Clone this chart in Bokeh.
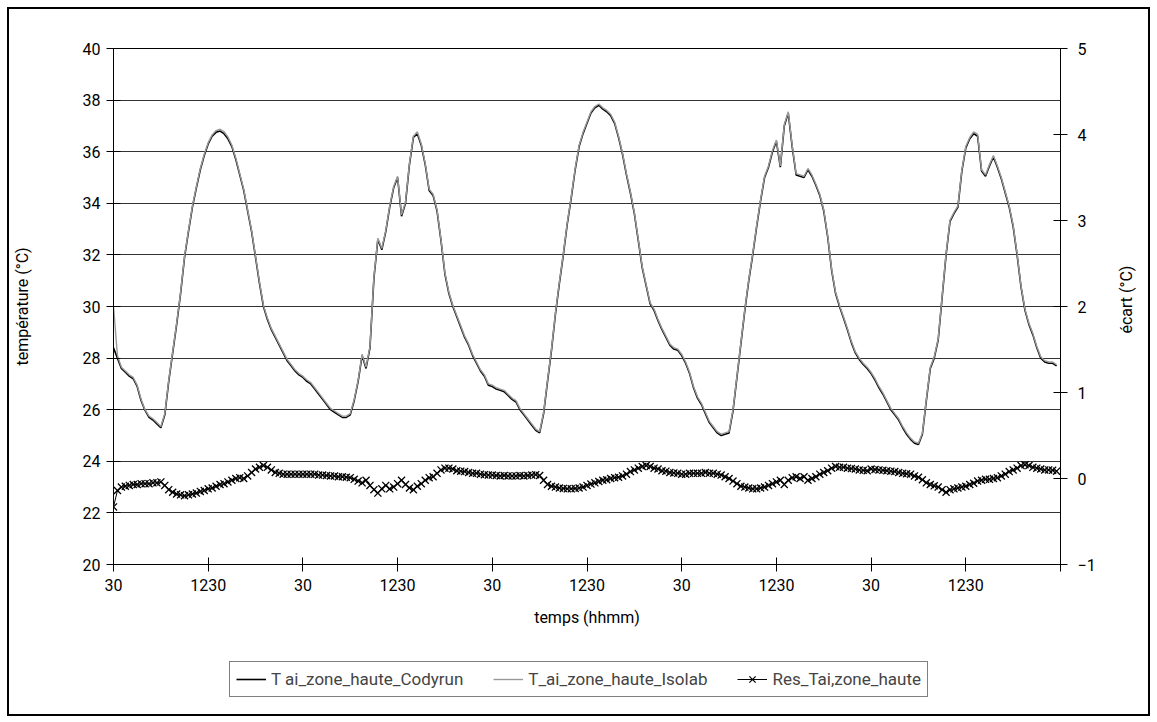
import math
from bokeh.plotting import figure
from bokeh.layouts import column
from bokeh.models import Range1d, LinearAxis, FixedTicker, Legend, LegendItem, ColumnDataSource
from bokeh.embed import file_html
from bokeh.resources import INLINE

FONT = "Roboto"

# ---- data (half-hourly samples over 5 days, first sample at 00:30) ----
codyrun_d1 = [28.4, 28.0, 27.6, 27.45, 27.3, 27.2, 26.9, 26.35, 25.97, 25.7, 25.6, 25.45,
              25.3, 25.8, 27.1, 28.2, 29.3, 30.5, 31.9, 32.9, 33.85, 34.6, 35.3, 35.85,
              36.3, 36.6, 36.75, 36.8, 36.7, 36.5, 36.2, 35.7, 35.1, 34.5, 33.7, 32.9,
              31.9, 30.9, 30.0, 29.5, 29.1, 28.8, 28.5, 28.2, 27.9, 27.7, 27.5, 27.35]
codyrun_d2 = [27.25, 27.1, 27.0, 26.8, 26.6, 26.4, 26.2, 26.0, 25.9, 25.8, 25.7, 25.7,
              25.8, 26.35, 27.1, 28.1, 27.6, 28.4, 31.1, 32.6, 32.2, 32.9, 33.85, 34.6,
              35.0, 33.5, 34.0, 35.5, 36.55, 36.7, 36.25, 35.5, 34.5, 34.3, 33.7, 32.55,
              31.25, 30.5, 30.0, 29.6, 29.2, 28.8, 28.5, 28.1, 27.8, 27.5, 27.3, 26.95]
codyrun_d3 = [26.9, 26.8, 26.75, 26.7, 26.55, 26.4, 26.3, 26.0, 25.8, 25.6, 25.4, 25.2,
              25.1, 25.85, 27.1, 28.3, 29.7, 30.9, 32.0, 33.2, 34.2, 35.3, 36.2, 36.7,
              37.1, 37.5, 37.7, 37.8, 37.65, 37.55, 37.4, 37.1, 36.55, 35.9, 35.1, 34.4,
              33.6, 32.55, 31.5, 30.8, 30.1, 29.85, 29.45, 29.1, 28.8, 28.5, 28.35, 28.3]
codyrun_d4 = [28.1, 27.8, 27.4, 26.85, 26.45, 26.2, 25.85, 25.5, 25.3, 25.1, 25.0, 25.05,
              25.1, 25.95, 27.25, 28.55, 29.85, 31.0, 32.0, 33.1, 34.1, 35.0, 35.4, 36.0,
              36.4, 35.4, 37.0, 37.5, 36.2, 35.1, 35.05, 35.0, 35.3, 35.05, 34.7, 34.3,
              33.7, 32.7, 31.4, 30.5, 30.0, 29.55, 29.1, 28.6, 28.2, 27.95, 27.75, 27.6]
codyrun_d5 = [27.4, 27.15, 26.85, 26.6, 26.3, 26.0, 25.8, 25.6, 25.3, 25.05, 24.85, 24.7,
              24.65, 25.05, 26.35, 27.6, 28.0, 28.7, 30.35, 32.0, 33.3, 33.6, 33.85, 35.25,
              36.15, 36.5, 36.7, 36.6, 35.25, 35.05, 35.45, 35.8, 35.4, 34.95, 34.4, 33.85,
              33.1, 32.0, 30.75, 29.85, 29.3, 28.9, 28.4, 28.0, 27.85, 27.8, 27.8, 27.7]

isolab_d1 = [30.0, 28.1, 27.65, 27.5, 27.35, 27.25, 26.95, 26.4, 26.0, 25.75, 25.65, 25.5,
             25.35, 25.85, 27.15, 28.25, 29.35, 30.55, 31.95, 32.95, 33.9, 34.65, 35.35, 35.9,
             36.35, 36.65, 36.82, 36.87, 36.78, 36.57, 36.25, 35.75, 35.15, 34.55, 33.75, 32.95,
             31.95, 30.95, 30.05, 29.55, 29.15, 28.85, 28.55, 28.25, 27.95, 27.75, 27.55, 27.4]
isolab_d2 = [27.3, 27.15, 27.05, 26.85, 26.65, 26.45, 26.25, 26.05, 25.95, 25.85, 25.75, 25.75,
             25.85, 26.4, 27.15, 28.15, 27.65, 28.45, 31.15, 32.65, 32.25, 32.95, 33.9, 34.65,
             35.05, 33.55, 34.05, 35.55, 36.6, 36.77, 36.3, 35.55, 34.55, 34.35, 33.75, 32.6,
             31.3, 30.55, 30.05, 29.65, 29.25, 28.85, 28.55, 28.15, 27.85, 27.55, 27.35, 27.0]
isolab_d3 = [26.95, 26.85, 26.8, 26.75, 26.6, 26.45, 26.35, 26.05, 25.85, 25.65, 25.45, 25.25,
             25.15, 25.9, 27.15, 28.35, 29.75, 30.95, 32.05, 33.25, 34.25, 35.35, 36.25, 36.75,
             37.15, 37.55, 37.75, 37.85, 37.7, 37.6, 37.45, 37.15, 36.6, 35.95, 35.15, 34.45,
             33.65, 32.6, 31.55, 30.85, 30.15, 29.9, 29.5, 29.15, 28.85, 28.55, 28.4, 28.35]
isolab_d4 = [28.15, 27.85, 27.45, 26.9, 26.5, 26.25, 25.9, 25.55, 25.35, 25.15, 25.05, 25.1,
             25.15, 26.0, 27.3, 28.6, 29.9, 31.05, 32.05, 33.15, 34.15, 35.05, 35.45, 36.05,
             36.45, 35.45, 37.05, 37.55, 36.25, 35.15, 35.1, 35.05, 35.35, 35.1, 34.75, 34.35,
             33.75, 32.75, 31.45, 30.55, 30.05, 29.6, 29.15, 28.65, 28.25, 28.0, 27.8, 27.65]
isolab_d5 = [27.45, 27.2, 26.9, 26.65, 26.35, 26.05, 25.85, 25.65, 25.35, 25.1, 24.9, 24.75,
             24.7, 25.1, 26.4, 27.65, 28.05, 28.75, 30.4, 32.05, 33.35, 33.65, 33.9, 35.3,
             36.2, 36.55, 36.77, 36.67, 35.3, 35.1, 35.5, 35.85, 35.45, 35.0, 34.45, 33.9,
             33.15, 32.05, 30.8, 29.9, 29.35, 28.95, 28.45, 28.05, 27.9, 27.85, 27.85, 27.75]

res_d1 = [-0.33, -0.14, -0.10, -0.09, -0.08, -0.07, -0.07, -0.06, -0.06, -0.06, -0.05, -0.05,
          -0.04, -0.08, -0.13, -0.16, -0.18, -0.19, -0.20, -0.19, -0.18, -0.17, -0.15, -0.14,
          -0.12, -0.11, -0.09, -0.07, -0.06, -0.04, -0.02, 0.0, 0.01, 0.0, 0.03, 0.07,
          0.11, 0.13, 0.15, 0.13, 0.10, 0.07, 0.06, 0.05, 0.05, 0.05, 0.05, 0.05]
res_d2 = [0.05, 0.05, 0.05, 0.05, 0.04, 0.04, 0.035, 0.03, 0.03, 0.02, 0.02, 0.015,
          0.01, -0.01, -0.03, -0.05, -0.02, -0.08, -0.13, -0.17, -0.12, -0.08, -0.12, -0.10,
          -0.06, -0.02, -0.07, -0.11, -0.13, -0.09, -0.06, -0.02, 0.01, 0.02, 0.06, 0.10,
          0.12, 0.12, 0.11, 0.09, 0.085, 0.08, 0.07, 0.06, 0.06, 0.05, 0.045, 0.04]
res_d3 = [0.04, 0.035, 0.03, 0.035, 0.03, 0.03, 0.03, 0.035, 0.03, 0.035, 0.04, 0.045,
          0.035, -0.02, -0.07, -0.09, -0.10, -0.11, -0.115, -0.12, -0.12, -0.115, -0.11, -0.10,
          -0.08, -0.065, -0.05, -0.035, -0.02, -0.015, 0.0, 0.01, 0.015, 0.03, 0.05, 0.08,
          0.10, 0.12, 0.14, 0.15, 0.14, 0.12, 0.11, 0.09, 0.085, 0.07, 0.065, 0.06]
res_d4 = [0.05, 0.05, 0.06, 0.06, 0.06, 0.06, 0.07, 0.06, 0.06, 0.05, 0.04, 0.02,
          0.0, -0.03, -0.06, -0.09, -0.10, -0.11, -0.12, -0.12, -0.11, -0.10, -0.08, -0.06,
          -0.04, -0.02, -0.07, -0.02, 0.01, 0.02, 0.0, 0.02, -0.02, 0.0, 0.02, 0.05,
          0.07, 0.09, 0.12, 0.14, 0.13, 0.13, 0.12, 0.115, 0.11, 0.10, 0.095, 0.09]
res_d5 = [0.11, 0.105, 0.10, 0.095, 0.09, 0.085, 0.08, 0.07, 0.06, 0.055, 0.05, 0.03,
          0.015, -0.015, -0.05, -0.07, -0.085, -0.10, -0.13, -0.16, -0.13, -0.12, -0.11, -0.10,
          -0.09, -0.07, -0.055, -0.03, -0.02, -0.01, -0.01, 0.0, 0.01, 0.03, 0.05, 0.08,
          0.10, 0.12, 0.15, 0.16, 0.15, 0.13, 0.12, 0.11, 0.10, 0.10, 0.095, 0.085]

codyrun = codyrun_d1 + codyrun_d2 + codyrun_d3 + codyrun_d4 + codyrun_d5
isolab = isolab_d1 + isolab_d2 + isolab_d3 + isolab_d4 + isolab_d5
res = res_d1 + res_d2 + res_d3 + res_d4 + res_d5
sample_index = list(range(len(codyrun)))  # category position of each half-hour sample

tick_positions = [0, 24, 48, 72, 96, 120, 144, 168, 192, 216, 240]
tick_labels = ["30", "1230", "30", "1230", "30", "1230", "30", "1230", "30", "1230", ""]
left_ticks = [20, 22, 24, 26, 28, 30, 32, 34, 36, 38, 40]
right_ticks = [-1, 0, 1, 2, 3, 4, 5]
series_labels = ["T ai_zone_haute_Codyrun", "T_ai_zone_haute_Isolab", "Res_Tai,zone_haute"]
right_title = "écart (°C)"

src = ColumnDataSource(dict(x=sample_index, cody=codyrun, iso=isolab, res=res))

# ---------------- main chart ----------------
p = figure(width=1139, height=640, output_backend="svg", toolbar_location=None,
           x_range=Range1d(0, 240), y_range=Range1d(20, 40),
           min_border_left=104, min_border_right=88, min_border_top=39, min_border_bottom=85,
           background_fill_color="white", border_fill_color="white")
p.extra_y_ranges = {"res": Range1d(-1, 5)}
p.outline_line_color = "black"
p.outline_line_width = 1

p.xaxis.ticker = FixedTicker(ticks=tick_positions)
p.xaxis.major_label_overrides = {t: l for t, l in zip(tick_positions, tick_labels)}
p.xaxis.axis_label = "temps (hhmm)"
p.yaxis.ticker = FixedTicker(ticks=left_ticks)
p.yaxis.axis_label = "température (°C)"

right_axis = LinearAxis(y_range_name="res", ticker=FixedTicker(ticks=right_ticks))
p.add_layout(right_axis, "right")

for ax in p.xaxis + p.yaxis + [right_axis]:
    ax.axis_line_color = "black"
    ax.axis_line_width = 1
    ax.major_tick_line_color = "black"
    ax.major_tick_in = 7
    ax.major_tick_out = 7
    ax.minor_tick_line_color = None
    ax.major_label_text_font = FONT
    ax.major_label_text_font_size = "16px"
    ax.major_label_text_color = "black"
    ax.axis_label_text_font = FONT
    ax.axis_label_text_font_size = "16px"
    ax.axis_label_text_font_style = "normal"
    ax.axis_label_text_color = "black"

p.xaxis.major_label_standoff = 7
p.xaxis.axis_label_standoff = 14
p.yaxis.major_label_standoff = 6
p.yaxis.axis_label_standoff = 48
right_axis.major_label_standoff = 10

# right-hand title (reads bottom-to-top), drawn as the single label of a bare axis;
# the label starts at its anchor, so the anchor sits at the lower end of the text
title_anchor = 1.686
right_title_axis = LinearAxis(y_range_name="res", ticker=FixedTicker(ticks=[title_anchor]),
                              major_label_overrides={title_anchor: right_title},
                              major_label_orientation=math.pi / 2,
                              major_label_text_font=FONT, major_label_text_font_size="16px",
                              major_label_text_color="black", major_label_standoff=28,
                              axis_line_color=None, major_tick_in=0, major_tick_out=0,
                              major_tick_line_color=None, minor_tick_line_color=None)
p.add_layout(right_title_axis, "right")

p.xgrid.visible = False
p.ygrid.ticker = FixedTicker(ticks=left_ticks)
p.ygrid.grid_line_color = "#333333"
p.ygrid.grid_line_width = 1

p.line("x", "cody", source=src, line_color="black", line_width=1.6)
p.line("x", "iso", source=src, line_color="#999999", line_width=1.4)
p.line("x", "res", source=src, line_color="black", line_width=1, y_range_name="res")
p.scatter("x", "res", source=src, marker="x", size=10, line_color="black",
          line_width=1.3, y_range_name="res")

# ---------------- legend strip ----------------
lg = figure(width=1139, height=65, output_backend="svg", toolbar_location=None,
            x_axis_type=None, y_axis_type=None, x_range=Range1d(0, 1), y_range=Range1d(0, 1),
            min_border_left=0, min_border_right=0, min_border_top=0, min_border_bottom=0,
            background_fill_color="white", border_fill_color="white")
lg.outline_line_color = None
lg.grid.visible = False
# legend swatches only: glyphs that sit outside the visible range of the strip
swatch = ColumnDataSource(dict(x=[-5, -4], y=[-5, -4]))
g1 = lg.line("x", "y", source=swatch, line_color="black", line_width=1.6)
g2 = lg.line("x", "y", source=swatch, line_color="#999999", line_width=1.4)
g3 = lg.line("x", "y", source=swatch, line_color="black", line_width=1)
g4 = lg.scatter("x", "y", source=swatch, marker="x", size=9, line_color="black", line_width=1.2)

legend = Legend(items=[
    LegendItem(label=series_labels[0], renderers=[g1]),
    LegendItem(label=series_labels[1], renderers=[g2]),
    LegendItem(label=series_labels[2], renderers=[g3, g4]),
], orientation="horizontal", location=(116, 17))
legend.border_line_color = "black"
legend.border_line_width = 1
legend.background_fill_color = "white"
legend.background_fill_alpha = 1
legend.label_text_font = FONT
legend.label_text_font_size = "17px"
legend.glyph_width = 30
legend.glyph_height = 22
legend.spacing = 30
legend.padding = 6
legend.label_standoff = 5
legend.margin = 0
lg.add_layout(legend, "center")

layout = column(p, lg, spacing=0,
                styles={"border": "2px solid black", "margin-left": "7px", "margin-top": "7px"})

open("out.html", "w").write(file_html(layout, INLINE))
